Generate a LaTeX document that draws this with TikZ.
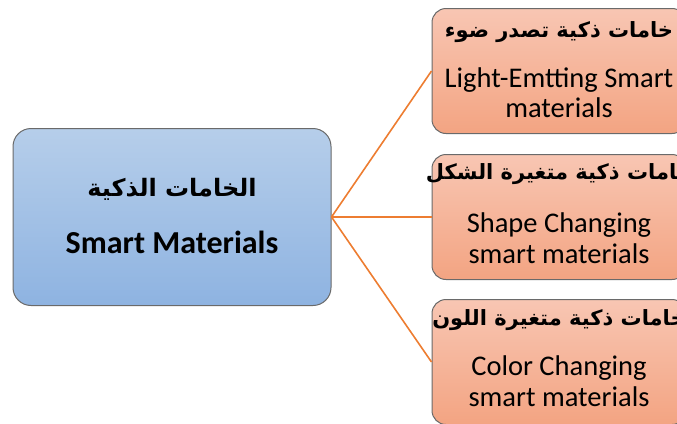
\documentclass[tikz,border=0pt]{standalone}
\usepackage{fontspec}
\setmainfont{Carlito}
\newfontfamily\arabicfont[Script=Arabic]{DejaVu Sans}
\TeXXeTstate=1
\definecolor{mainTop}{HTML}{B6CEEA}
\definecolor{mainBot}{HTML}{8EB3E1}
\definecolor{subTop}{HTML}{F8C6B3}
\definecolor{subBot}{HTML}{F3A482}
\definecolor{edgeGray}{HTML}{6A6A6A}
\definecolor{linkOrange}{HTML}{ED7D31}
\tikzset{
  mainbox/.style={draw=edgeGray, line width=1pt, rounded corners=18pt, top color=mainTop, bottom color=mainBot, minimum width=318pt, minimum height=177pt, inner sep=0pt},
  subbox/.style={draw=edgeGray, line width=1pt, rounded corners=14pt, top color=subTop, bottom color=subBot, minimum width=254pt, minimum height=125pt, inner sep=0pt},
  artext/.style={inner sep=0pt, font=\arabicfont\bfseries\fontsize{21}{24}\selectfont},
  entext/.style={inner sep=0pt, font=\fontsize{28.5}{32}\selectfont},
  link/.style={draw=linkOrange, line width=1.6pt}
}
\begin{document}
\begin{tikzpicture}[x=1pt,y=-1pt]
\clip (0,0) rectangle (677,423);
\useasboundingbox (0,0) rectangle (677,423);
\node[mainbox] (main) at (172,217) {};
\node[subbox] (s1) at (559,71) {};
\node[subbox] (s2) at (559,217) {};
\node[subbox] (s3) at (559,362) {};
\draw[link] (main.east) -- (s1.west);
\draw[link] (main.east) -- (s2.west);
\draw[link] (main.east) -- (s3.west);
\node[inner sep=0pt, font=\arabicfont\bfseries\fontsize{24}{28}\selectfont] (mt1) at (172,189) {\beginR الخامات الذكية\endR};
\node[inner sep=0pt, font=\bfseries\fontsize{32}{36}\selectfont] (mt2) at (172,242) {Smart Materials};
\node[artext] (a1) at (559,32) {\beginR خامات ذكية تصدر ضوء\endR};
\node[entext] (e1a) at (559,80) {Light-Emtting Smart};
\node[entext] (e1b) at (559,108) {materials};
\node[artext] (a2) at (559,174) {\beginR خامات ذكية متغيرة الشكل\endR};
\node[entext] (e2a) at (559,225) {Shape Changing};
\node[entext] (e2b) at (559,254) {smart materials};
\node[artext] (a3) at (559,320) {\beginR خامات ذكية متغيرة اللون\endR};
\node[entext] (e3a) at (559,368) {Color Changing};
\node[entext] (e3b) at (559,397) {smart materials};
\end{tikzpicture}
\end{document}
